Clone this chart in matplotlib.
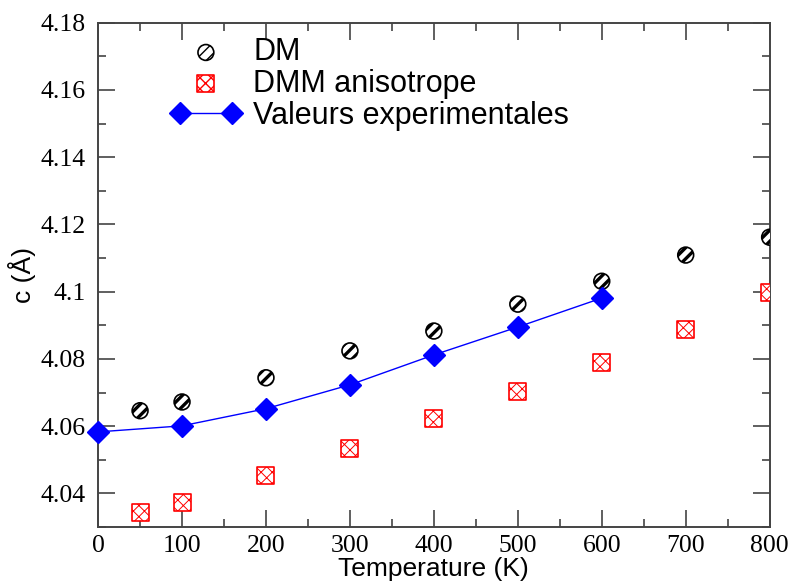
import matplotlib
matplotlib.use("Agg")
import matplotlib.pyplot as plt
from matplotlib.ticker import MultipleLocator

# DM (molecular dynamics)
dm_T = [50, 100, 200, 300, 400, 500, 600, 700, 800]
dm_c = [4.0646, 4.0672, 4.0744, 4.0824, 4.0883, 4.0963, 4.1031, 4.1109, 4.1162]

# DMM anisotrope
dmm_T = [50, 100, 200, 300, 400, 500, 600, 700, 800]
dmm_c = [4.0343, 4.0373, 4.0453, 4.0533, 4.0622, 4.0702, 4.0788, 4.0889, 4.0999]

# experimental values
exp_T = [0, 100, 200, 300, 400, 500, 600]
exp_c = [4.0583, 4.0601, 4.0652, 4.0723, 4.0812, 4.0895, 4.0981]

fig = plt.figure(figsize=(7.91, 5.83), dpi=100)
ax = fig.add_axes([0.124, 0.096, 0.849, 0.865])

# hatch linewidth is picked up when the collection is created
plt.rcParams['hatch.linewidth'] = 2.4
ax.scatter(dm_T, dm_c, s=130, marker='o', facecolor='white', edgecolor='black',
           hatch='///', linewidth=1.2, label='DM', zorder=3)
plt.rcParams['hatch.linewidth'] = 0.7
ax.scatter(dmm_T, dmm_c, s=150, marker='s', facecolor='white', edgecolor='red',
           hatch='xxx', linewidth=1.2, label='DMM anisotrope', zorder=3)
plt.rcParams['hatch.linewidth'] = 1.0
ax.plot(exp_T, exp_c, color='blue', lw=1.0, marker='D', markersize=11,
        markerfacecolor='blue', markeredgecolor='blue',
        label='Valeurs experimentales', zorder=4, clip_on=False)

ax.set_xlim(0, 800)
ax.set_ylim(4.03, 4.18)
ax.xaxis.set_major_locator(MultipleLocator(100))
ax.xaxis.set_minor_locator(MultipleLocator(50))
ax.yaxis.set_minor_locator(MultipleLocator(0.01))
ax.set_yticks([4.04, 4.06, 4.08, 4.1, 4.12, 4.14, 4.16, 4.18])
ax.set_yticklabels(['4.04', '4.06', '4.08', '4.1', '4.12', '4.14', '4.16', '4.18'])

ax.tick_params(which='both', direction='in', top=True, right=True,
               color='#444444', width=1.2)
ax.tick_params(which='major', length=12)
ax.tick_params(axis='x', which='major', pad=6)
ax.tick_params(axis='y', which='major', pad=9)
ax.tick_params(which='minor', length=6)
for lab in ax.get_xticklabels() + ax.get_yticklabels():
    lab.set_fontfamily('Liberation Serif')
    lab.set_fontsize(18.5)
for sp in ax.spines.values():
    sp.set_color('#444444')
    sp.set_linewidth(1.4)

ax.set_xlabel('Temperature (K)', fontfamily='Liberation Sans', fontsize=19, labelpad=0)
ax.set_ylabel('c (Å)', fontfamily='Liberation Sans', fontsize=19, labelpad=3)

leg = ax.legend(loc='upper left', bbox_to_anchor=(0.09, 0.995), frameon=False,
                prop={'family': 'Liberation Sans', 'size': 22},
                scatterpoints=1, numpoints=2, handlelength=2.3,
                handletextpad=0.4, labelspacing=0.05, borderaxespad=0)

fig.savefig('out.png', dpi=100)
